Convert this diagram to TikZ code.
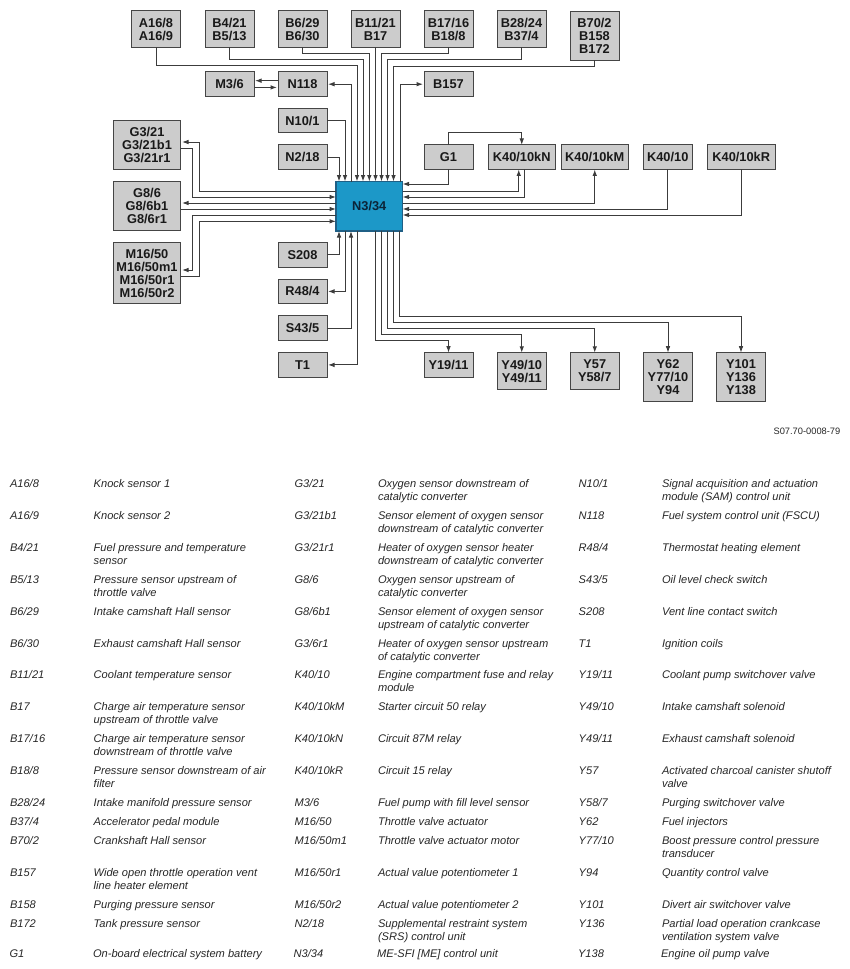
\documentclass[tikz,border=0pt]{standalone}
\usepackage{fontspec}
\setmainfont{Liberation Sans}
\usetikzlibrary{arrows.meta}
\definecolor{boxfill}{HTML}{CCCCCC}
\definecolor{boxline}{HTML}{454545}
\definecolor{wirecol}{HTML}{3C3C3C}
\definecolor{chipfill}{HTML}{1C98C8}
\definecolor{chipline}{HTML}{1F5F85}
\definecolor{chiptext}{HTML}{0B2438}
\newcounter{lgc}
\newcommand\legrow[5]{\stepcounter{lgc}%
  \node[legtext] (Lc\arabic{lgc}) at (#1,#3-5.3) {\strut #4};
  \node[legtext] (Ld\arabic{lgc}) at (#2,#3-5.3) {\strut #5};}
\newcommand\legA[3]{\legrow{10}{93.7}{#1}{#2}{#3}}
\newcommand\legB[3]{\legrow{294.5}{378}{#1}{#2}{#3}}
\newcommand\legC[3]{\legrow{578.7}{662}{#1}{#2}{#3}}
\tikzset{
  unitbox/.style={draw=boxline,fill=boxfill,line width=1pt,inner sep=0pt,outer sep=0pt,
    align=center,font=\fontsize{12.8}{13}\selectfont\bfseries,text=black!90},
  wsmall/.style={unitbox,minimum width=49pt},
  h1/.style={minimum height=24.5pt},
  h2/.style={minimum height=36.5pt},
  h3/.style={minimum height=49pt},
  chipbox/.style={draw=chipline,fill=chipfill,line width=1.2pt,inner sep=0pt,outer sep=0pt,
    minimum width=66.5pt,minimum height=49.5pt,font=\fontsize{12.8}{13}\selectfont\bfseries,text=chiptext},
  wire/.style={draw=wirecol,line width=1pt},
  ar/.style={wire,-{Latex[length=6.5pt,width=4.6pt]}},
  legtext/.style={anchor=north west,inner sep=0pt,outer sep=0pt,align=left,
    font=\fontsize{11.1}{13}\selectfont\itshape,text=black!85},
  codetext/.style={anchor=east,inner sep=0pt,font=\fontsize{9.3}{11}\selectfont,text=black!85}
}
\begin{document}
\begin{tikzpicture}[x=1pt,y=-1pt]
\useasboundingbox (0,0) rectangle (849,969);
% top row
\node[wsmall,h2] (a16) at (156,29.2) {A16/8\\A16/9};
\node[wsmall,h2] (b4)  at (229.5,29.2) {B4/21\\B5/13};
\node[wsmall,h2] (b6)  at (302.5,29.2) {B6/29\\B6/30};
\node[wsmall,h2] (b11) at (375.5,29.2) {B11/21\\B17};
\node[wsmall,h2] (b17) at (448.5,29.2) {B17/16\\B18/8};
\node[wsmall,h2] (b28) at (521.5,29.2) {B28/24\\B37/4};
\node[wsmall,h3] (b70) at (594.5,35.5) {B70/2\\B158\\B172};
% second row
\node[wsmall,h1] (m36) at (229.5,84.2) {M3/6};
\node[wsmall,h1] (n118) at (302.5,84.2) {N118};
\node[wsmall,h1] (b157) at (448.5,84.2) {B157};
\node[wsmall,h1] (n101) at (302.5,120.7) {N10/1};
\node[wsmall,h1] (n218) at (302.5,157.2) {N2/18};
\node[wsmall,h1] (g1) at (448.5,157.2) {G1};
% relays
\node[unitbox,h1,minimum width=67.5pt] (kn) at (521.75,157.2) {K40/10kN};
\node[unitbox,h1,minimum width=67.5pt] (km) at (594.75,157.2) {K40/10kM};
\node[wsmall,h1] (k10) at (667.75,157.2) {K40/10};
\node[unitbox,h1,minimum width=67.5pt] (kr) at (741.25,157.2) {K40/10kR};
% left
\node[unitbox,h3,minimum width=67pt] (g3) at (147,145) {G3/21\\G3/21b1\\G3/21r1};
\node[unitbox,h3,minimum width=67pt] (g8) at (147,206) {G8/6\\G8/6b1\\G8/6r1};
\node[unitbox,minimum height=61.5pt,minimum width=67pt] (m16) at (147,273.2) {M16/50\\M16/50m1\\M16/50r1\\M16/50r2};
% chip
\node[chipbox] (n3) at (369.25,206.25) {N3/34};
% lower left
\node[wsmall,h1] (s208) at (302.5,254.8) {S208};
\node[wsmall,h1] (r48) at (302.5,291.4) {R48/4};
\node[wsmall,h1] (s43) at (302.5,328.2) {S43/5};
\node[wsmall,h1] (t1) at (302.5,364.9) {T1};
% bottom row
\node[wsmall,h1] (y19) at (448.5,364.9) {Y19/11};
\node[wsmall,h2] (y49) at (521.75,371) {Y49/10\\Y49/11};
\node[wsmall,h2] (y57) at (594.75,371) {Y57\\Y58/7};
\node[wsmall,h3] (y62) at (668,377.2) {Y62\\Y77/10\\Y94};
\node[wsmall,h3] (y101) at (741,377.2) {Y101\\Y136\\Y138};
% ports of the control unit
\foreach \n/\x in {1/339,2/345,3/351,4/357,5/363,6/369.3,7/375.5,8/381.5,9/387.5,10/393.5,11/400}
  \coordinate (pT\n) at (\x,181.5);
\foreach \n/\x in {1/339,2/345,3/351,4/357,5/375.5,6/381.7,7/387.7,8/393.7,9/399.7}
  \coordinate (pB\n) at (\x,231);
\foreach \n/\y in {1/191,2/197,3/203,4/209,5/215,6/221.3}
  \coordinate (pL\n) at (336,\y);
\foreach \n/\y in {1/184,2/191,3/197,4/203,5/209,6/215}
  \coordinate (pR\n) at (402.5,\y);
\coordinate (cA) at (199,0);
\coordinate (cB) at (192.7,0);
% top wires
\draw[ar] (a16.south) -- ++(0,18.5) -| (pT4);
\draw[ar] (b4.south) -- ++(0,12.5) -| (pT5);
\draw[ar] (b6.south) -- ++(0,6) -| (pT6);
\draw[ar] (b11.south) -- (pT7);
\draw[ar] (b17.south) -- ++(0,6) -| (pT8);
\draw[ar] (b28.south) -- ++(0,12.5) -| (pT9);
\draw[ar] (b70.south) -- ++(0,6) -| (pT10);
\draw[ar] (pT11) |- ([xshift=-1pt]b157.west);
\draw[wire] (pT3) -- (pT3 |- n118.east);
\draw[ar] (pT3 |- n118.east) -- ([xshift=1pt]n118.east);
\draw[ar] (n101.east) -| (pT2);
\draw[ar] (n218.east) -| (pT1);
\draw[ar] ([yshift=3.5pt]n118.west) -- ([yshift=3.5pt,xshift=1pt]m36.east);
\draw[ar] ([yshift=-3.2pt]m36.east) -- ([yshift=-3.2pt,xshift=-1pt]n118.west);
% left wires
\draw[ar] (pL1) -- (pL1 -| cA) |- ([yshift=3pt,xshift=1.5pt]g3.east);
\draw[ar] ([yshift=-3.3pt]g3.east) -| (cB |- pL2) -- (pL2);
\coordinate (g8in) at ([xshift=1.5pt]g8.east |- pL3);
\draw[ar] (pL3) -- (g8in);
\draw[ar] (g8.east |- pL4) -- (pL4);
\draw[ar] (pL5) -- (pL5 -| cB) |- ([yshift=3.2pt,xshift=1.5pt]m16.east);
\draw[ar] ([yshift=-2.8pt]m16.east) -| (cA |- pL6) -- (pL6);
% right wires
\draw[ar] (g1.south) |- (pR1);
\draw[ar] (pR2) -| ([xshift=-3pt]kn.south);
\draw[ar] ([xshift=3pt]kn.south) |- (pR3);
\draw[ar] (g1.north) -- ++(0,-12) -| (kn.north);
\draw[ar] (pR4) -| (km.south);
\draw[ar] (k10.south) |- (pR5);
\draw[ar] (kr.south) |- (pR6);
% lower left wires
\draw[ar] (s208.east) -| (pB1);
\draw[ar] (pB2) |- ([xshift=1pt]r48.east);
\draw[ar] (s43.east) -| (pB3);
\draw[ar] (pB4) |- ([xshift=1pt]t1.east);
% bottom wires
\draw[ar] (pB5) -- ++(0,109) -| (y19.north);
\draw[ar] (pB6) -- ++(0,103) -| (y49.north);
\draw[ar] (pB7) -- ++(0,97) -| (y57.north);
\draw[ar] (pB8) -- ++(0,91) -| (y62.north);
\draw[ar] (pB9) -- ++(0,85) -| (y101.north);
% drawing code
\node[codetext] (code) at (840.5,431.5) {S07.70-0008-79};
% legend
\legA{483.3}{A16/8}{Knock sensor 1}
\legA{515.3}{A16/9}{Knock sensor 2}
\legA{547.3}{B4/21}{Fuel pressure and temperature\\sensor}
\legA{579.3}{B5/13}{Pressure sensor upstream of\\throttle valve}
\legA{611.3}{B6/29}{Intake camshaft Hall sensor}
\legA{643.3}{B6/30}{Exhaust camshaft Hall sensor}
\legA{674.3}{B11/21}{Coolant temperature sensor}
\legA{706.7}{B17}{Charge air temperature sensor\\upstream of throttle valve}
\legA{738.3}{B17/16}{Charge air temperature sensor\\downstream of throttle valve}
\legA{770.3}{B18/8}{Pressure sensor downstream of air\\filter}
\legA{802.3}{B28/24}{Intake manifold pressure sensor}
\legA{821.3}{B37/4}{Accelerator pedal module}
\legA{840.3}{B70/2}{Crankshaft Hall sensor}
\legA{872.3}{B157}{Wide open throttle operation vent\\line heater element}
\legA{904.3}{B158}{Purging pressure sensor}
\legA{923.3}{B172}{Tank pressure sensor}
\legrow{9.5}{93}{954}{G1}{On-board electrical system battery}
\legB{483.3}{G3/21}{Oxygen sensor downstream of\\catalytic converter}
\legB{515.3}{G3/21b1}{Sensor element of oxygen sensor\\downstream of catalytic converter}
\legB{547.3}{G3/21r1}{Heater of oxygen sensor heater\\downstream of catalytic converter}
\legB{579.3}{G8/6}{Oxygen sensor upstream of\\catalytic converter}
\legB{611.3}{G8/6b1}{Sensor element of oxygen sensor\\upstream of catalytic converter}
\legB{643.3}{G3/6r1}{Heater of oxygen sensor upstream\\of catalytic converter}
\legB{674.3}{K40/10}{Engine compartment fuse and relay\\module}
\legB{706.7}{K40/10kM}{Starter circuit 50 relay}
\legB{738.3}{K40/10kN}{Circuit 87M relay}
\legB{770.3}{K40/10kR}{Circuit 15 relay}
\legB{802.3}{M3/6}{Fuel pump with fill level sensor}
\legB{821.3}{M16/50}{Throttle valve actuator}
\legB{840.3}{M16/50m1}{Throttle valve actuator motor}
\legB{872.3}{M16/50r1}{Actual value potentiometer 1}
\legB{904.3}{M16/50r2}{Actual value potentiometer 2}
\legB{923.3}{N2/18}{Supplemental restraint system\\(SRS) control unit}
\legrow{293.7}{377}{954}{N3/34}{ME-SFI [ME] control unit}
\legC{483.3}{N10/1}{Signal acquisition and actuation\\module (SAM) control unit}
\legC{515.3}{N118}{Fuel system control unit (FSCU)}
\legC{547.3}{R48/4}{Thermostat heating element}
\legC{579.3}{S43/5}{Oil level check switch}
\legC{611.3}{S208}{Vent line contact switch}
\legC{643.3}{T1}{Ignition coils}
\legC{674.3}{Y19/11}{Coolant pump switchover valve}
\legC{706.7}{Y49/10}{Intake camshaft solenoid}
\legC{738.3}{Y49/11}{Exhaust camshaft solenoid}
\legC{770.3}{Y57}{Activated charcoal canister shutoff\\valve}
\legC{802.3}{Y58/7}{Purging switchover valve}
\legC{821.3}{Y62}{Fuel injectors}
\legC{840.3}{Y77/10}{Boost pressure control pressure\\transducer}
\legC{872.3}{Y94}{Quantity control valve}
\legC{904.3}{Y101}{Divert air switchover valve}
\legC{923.3}{Y136}{Partial load operation crankcase\\ventilation system valve}
\legrow{578}{661}{954}{Y138}{Engine oil pump valve}
\end{tikzpicture}
\end{document}
